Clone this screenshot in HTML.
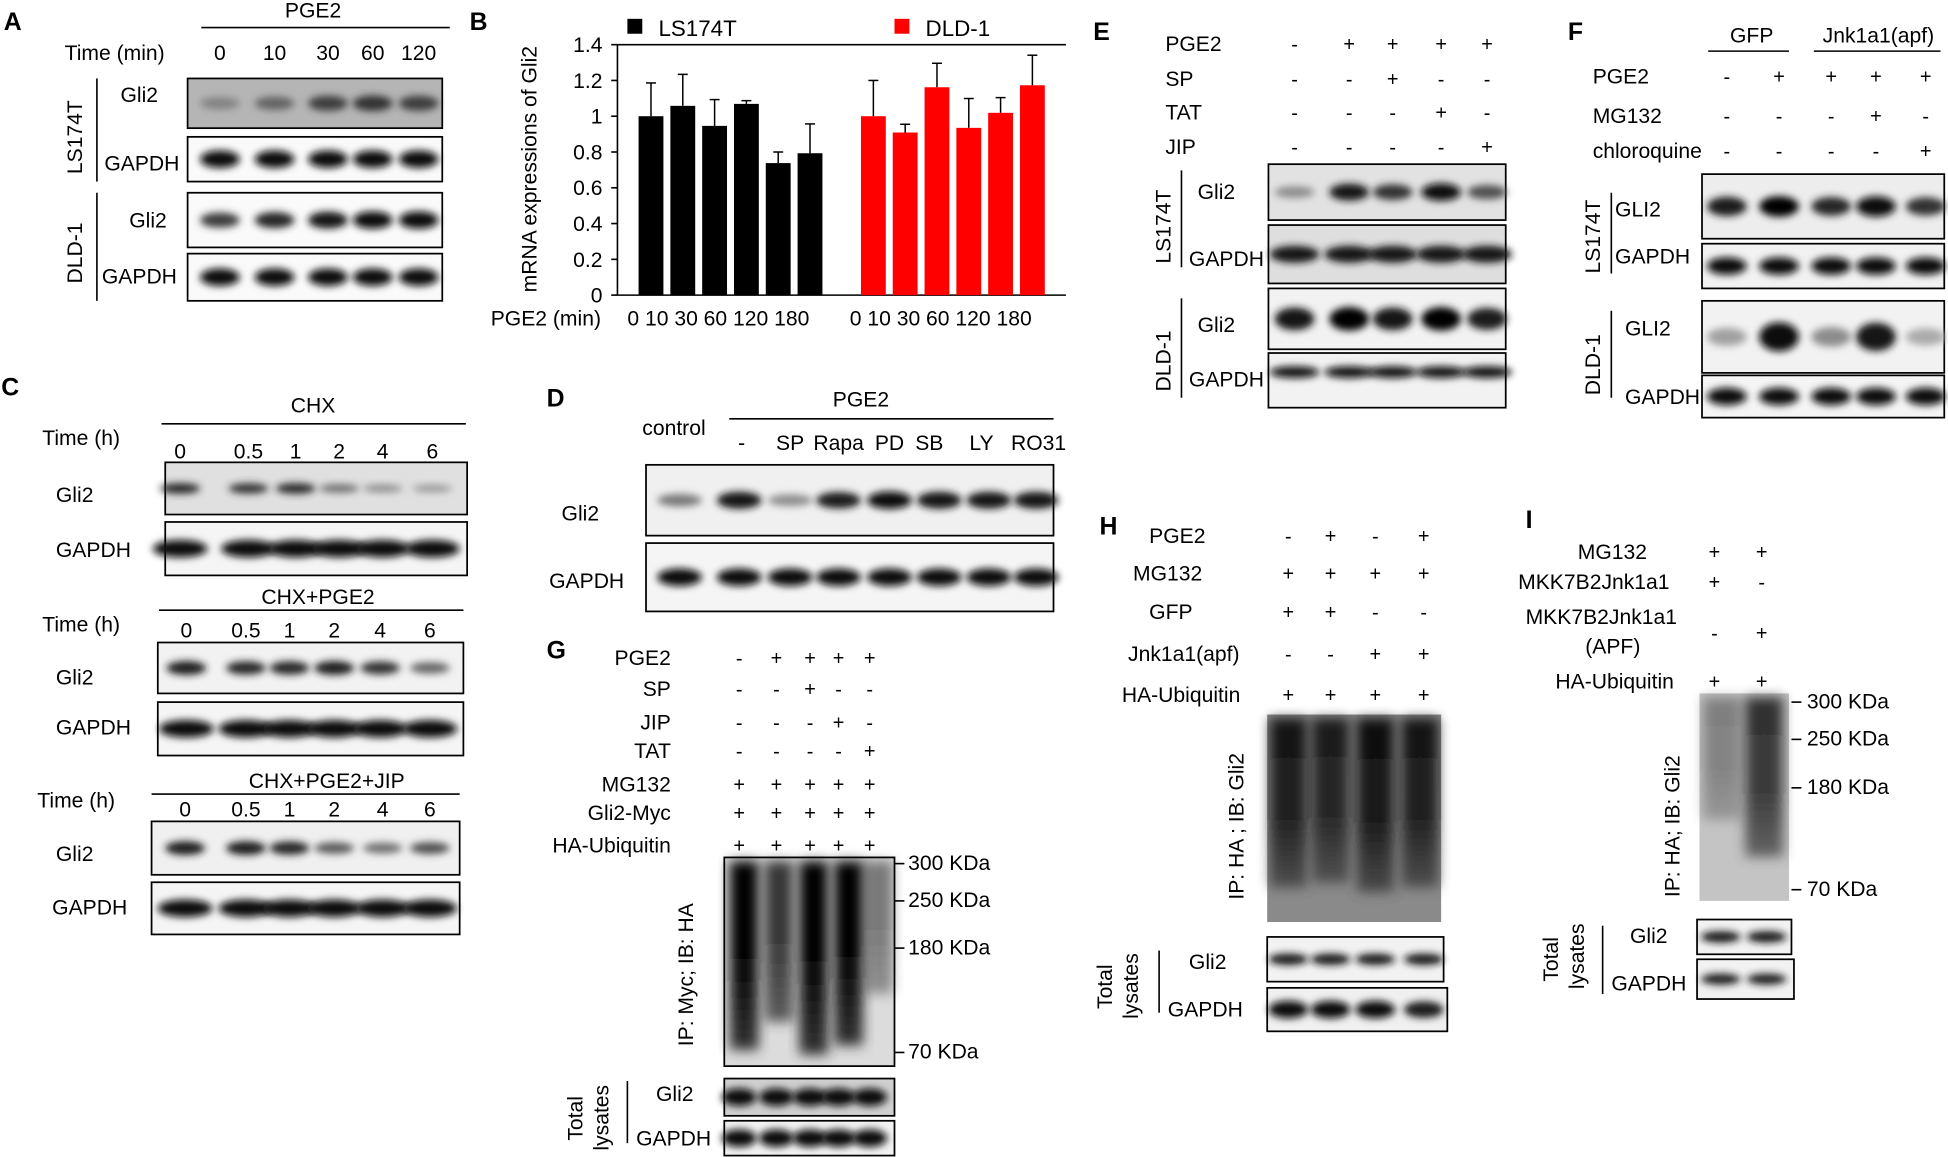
<!DOCTYPE html>
<html><head><meta charset="utf-8">
<style>
html,body{margin:0;padding:0;background:#fff;width:1948px;height:1157px;overflow:hidden}
svg text{font-family:"Liberation Sans",Arial,sans-serif;fill:#000}
</style></head>
<body>
<svg id="fig" xmlns="http://www.w3.org/2000/svg" width="1948" height="1157" viewBox="0 0 1568 931">
<defs>
<filter id="blur" x="-30%" y="-80%" width="160%" height="260%"><feGaussianBlur stdDeviation="3"/></filter>
<filter id="blur2" x="-40%" y="-10%" width="180%" height="120%"><feGaussianBlur stdDeviation="5"/></filter>
<linearGradient id="smearG" x1="0" y1="0" x2="0" y2="1">
<stop offset="0" stop-color="#000"/><stop offset="0.5" stop-color="#050505"/><stop offset="1" stop-color="#333"/>
</linearGradient>
<linearGradient id="smearH" x1="0" y1="0" x2="0" y2="1">
<stop offset="0" stop-color="#000"/><stop offset="0.6" stop-color="#111"/><stop offset="1" stop-color="#444"/>
</linearGradient>
</defs>
<g id="root"></g>
</svg>
<script>
// ---------- Panel B chart data ----------
const categories = ["0","10","30","60","120","180"];
const seriesNames = ["LS174T","DLD-1"];
const ls174tValues = [1.0, 1.058, 0.946, 1.069, 0.738, 0.793];
const ls174tErrors = [0.186, 0.176, 0.147, 0.018, 0.062, 0.164];
const dld1Values = [1.0, 0.909, 1.162, 0.935, 1.019, 1.173];
const dld1Errors = [0.2, 0.046, 0.134, 0.164, 0.085, 0.168];
const yTicks = [0, 0.2, 0.4, 0.6, 0.8, 1, 1.2, 1.4];

const NS = "http://www.w3.org/2000/svg";
const root = document.getElementById('root');
function el(tag, attrs, parent){
  const e = document.createElementNS(NS, tag);
  for (const k in attrs) e.setAttribute(k, attrs[k]);
  (parent||root).appendChild(e);
  return e;
}
function txt(x, y, s, name, opts){
  opts = opts||{};
  const t = el('text', {x:x, y:y, 'font-size':opts.size||17, 'text-anchor':opts.anchor||'start'});
  if (opts.bold) t.setAttribute('font-weight','bold');
  if (opts.rot) t.setAttribute('transform','rotate(-90 '+x+' '+y+')');
  if (opts.fill) t.setAttribute('fill', opts.fill);
  t.textContent = s;
  
  
  return t;
}
function line(x1,y1,x2,y2,name,w){
  const l = el('line',{x1:x1,y1:y1,x2:x2,y2:y2,stroke:'#000','stroke-width':w||1.3});
  
  
  return l;
}
function blot(x, y, w, h, lanes, vals, name, opts){
  opts = opts||{};
  const g = el('g',{});
  
  
  const r = el('rect',{x:x,y:y,width:w,height:h,fill:opts.bg||'#ececec',stroke:'#000','stroke-width':1.4}, g);
  
  
  const bw = opts.bw || 16, bh = opts.bh || 6;
  lanes.forEach((lx,i)=>{
    const v = vals[i];
    if (v<=0) return;
    const c = Math.round(200*(1-v));
    const b = el('ellipse',{cx:lx, cy:y+h*(opts.pos||0.5), rx:bw, ry:bh*(0.6+0.6*v), fill:'rgb('+c+','+c+','+c+')', filter:'url(#blur)'}, g);
    
    
  });
  return g;
}
function smear(x, y, w, h, lanes, vals, name, opts){
  opts = opts||{};
  const g = el('g',{});
  
  
  const r = el('rect',{x:x,y:y,width:w,height:h,fill:opts.bg||'#d8d8d8'}, g);
  
  
  const lw = w/lanes.length;
  lanes.forEach((lx,i)=>{
    const v = vals[i];
    const s = el('rect',{x:lx-lw*0.42, y:y+3, width:lw*0.84, height:h*(0.5+0.45*v), fill:opts.grad||'url(#smearG)', opacity:Math.min(1,0.15+v), filter:'url(#blur2)'}, g);
    
    
  });
  if (opts.frame){
    const f = el('rect',{x:x,y:y,width:w,height:h,fill:'none',stroke:'#000','stroke-width':1.4}, g);
    
    
  }
  return g;
}
function signs(lanes, y, arr, name){
  lanes.forEach((lx,i)=>{ txt(lx, y, arr[i], name, {anchor:'middle', size:16}); });
}

// ================= Panel A =================
txt(3,24,'A','panel-a-label',{bold:true,size:20});
txt(252,14,'PGE2','panel-a-pge2',{anchor:'middle'});
line(162,22,362,22,'panel-a-pge2-line');
txt(52,48,'Time (min)','panel-a-time-label');
const laneA=[177,221,264,300,337];
['0','10','30','60','120'].forEach((s,i)=>txt(laneA[i],48,s,'panel-a-time-tick',{anchor:'middle'}));
blot(151,63,205,40,laneA,[0.35,0.5,0.7,0.75,0.7],'panel-a-ls174t-gli2-blot',{bg:'#b5b5b5'});
blot(151,110,205,36,laneA,[0.95,0.95,0.95,0.95,0.95],'panel-a-ls174t-gapdh-blot',{bg:'#fafafa'});
blot(151,155,205,44,laneA,[0.7,0.8,0.9,0.95,0.95],'panel-a-dld1-gli2-blot',{bg:'#fafafa'});
blot(151,204,205,38,laneA,[0.95,0.95,0.95,0.95,0.95],'panel-a-dld1-gapdh-blot',{bg:'#fafafa'});
txt(97,82,'Gli2','panel-a-gli2-label');
txt(84,137,'GAPDH','panel-a-gapdh-label');
txt(104,183,'Gli2','panel-a-gli2-label-2');
txt(82,228,'GAPDH','panel-a-gapdh-label-2');
txt(66,140,'LS174T','panel-a-ls174t-label',{rot:true});
line(78,63,78,146,'panel-a-ls174t-bracket');
txt(66,228,'DLD-1','panel-a-dld1-label',{rot:true});
line(78,155,78,242,'panel-a-dld1-bracket');

// ================= Panel B (chart) =================
txt(378,24,'B','panel-b-label',{bold:true,size:20});
const yMin=0, yMax=1.4, yTop=35.8, yBot=237.4;
function yScale(v){ return yBot - (v-yMin)/(yMax-yMin)*(yBot-yTop); }
const groupStart=[524,703], barStep=25.6, barW=20;
function xScale(group, i){ return groupStart[group] + i*barStep; }
line(497,yTop,497,yBot,'y-axis');
line(497,yBot,858,yBot,'x-axis');
line(497,yTop,858,yTop,'plot-top-border');
yTicks.forEach(v=>{
  line(492,yScale(v),497,yScale(v),'y-tick');
  txt(485,yScale(v)+6,String(v),'y-tick-label',{anchor:'end',size:17});
});
txt(432,136,'mRNA expressions  of Gli2','y-axis-title',{rot:true,anchor:'middle',size:17});
const seriesVals=[ls174tValues,dld1Values], seriesErr=[ls174tErrors,dld1Errors], colors=['#000','#ff0000'];
seriesVals.forEach((vals,g)=>{
  vals.forEach((v,i)=>{
    const cx=xScale(g,i);
    const top=yScale(v+seriesErr[g][i]);
    line(cx,yScale(v),cx,top,'error-bar',1.2);
    line(cx-4,top,cx+4,top,'error-cap',1.2);
    const b=el('rect',{x:cx-barW/2,y:yScale(v),width:barW,height:yBot-yScale(v),fill:colors[g]});
    
    
  });
  const t=el('text',{x:xScale(g,0)-19,y:262,'font-size':17});
  
  
  t.textContent=categories.join(' ');
});
txt(395,262,'PGE2 (min)','x-axis-title',{size:17});
const lg1=el('rect',{x:505,y:15,width:12,height:12,fill:'#000'});


txt(530,29,'LS174T','legend-label-ls174t',{size:18});
const lg2=el('rect',{x:720,y:15,width:12,height:12,fill:'#ff0000'});


txt(745,29,'DLD-1','legend-label-dld1',{size:18});

// ================= Panel C =================
txt(1,318,'C','panel-c-label',{bold:true,size:20});
txt(252,332,'CHX','panel-c-chx',{anchor:'middle'});
line(130,341,375,341,'panel-c-chx-line');
txt(34,358,'Time (h)','panel-c-time');
const laneC1=[145,200,238,273,308,348];
['0','0.5','1','2','4','6'].forEach((s,i)=>txt(laneC1[i],369,s,'panel-c-time-tick',{anchor:'middle'}));
blot(133,372,243,42,laneC1,[0.8,0.75,0.8,0.45,0.3,0.25],'panel-c-chx-gli2-blot',{bg:'#e0e0e0',bh:4});
blot(133,420,243,43,laneC1,[0.95,0.95,0.95,0.95,0.95,0.95],'panel-c-chx-gapdh-blot',{bg:'#f5f5f5',bw:22});
txt(45,404,'Gli2','panel-c-gli2-label');
txt(45,448,'GAPDH','panel-c-gapdh-label');
txt(256,486,'CHX+PGE2','panel-c-chx-pge2',{anchor:'middle'});
line(128,491,373,491,'panel-c-chx-pge2-line');
txt(34,508,'Time (h)','panel-c-time-2');
const laneC2=[150,198,233,269,306,346];
['0','0.5','1','2','4','6'].forEach((s,i)=>txt(laneC2[i],513,s,'panel-c-time-tick-2',{anchor:'middle'}));
blot(127,517,246,41,laneC2,[0.85,0.8,0.8,0.85,0.75,0.5],'panel-c-chx-pge2-gli2-blot',{bg:'#f2f2f2',bh:5});
blot(127,565,246,43,laneC2,[0.95,0.95,0.95,0.95,0.95,0.95],'panel-c-chx-pge2-gapdh-blot',{bg:'#f5f5f5',bw:22});
txt(45,551,'Gli2','panel-c-gli2-label-2');
txt(45,591,'GAPDH','panel-c-gapdh-label-2');
txt(263,634,'CHX+PGE2+JIP','panel-c-chx-pge2-jip',{anchor:'middle'});
line(122,639,370,639,'panel-c-jip-line');
txt(30,650,'Time (h)','panel-c-time-3');
const laneC3=[149,198,233,269,308,346];
['0','0.5','1','2','4','6'].forEach((s,i)=>txt(laneC3[i],657,s,'panel-c-time-tick-3',{anchor:'middle'}));
blot(122,661,248,43,laneC3,[0.85,0.85,0.8,0.55,0.45,0.6],'panel-c-jip-gli2-blot',{bg:'#f0f0f0',bh:5});
blot(122,710,248,42,laneC3,[0.95,0.95,0.95,0.95,0.95,0.95],'panel-c-jip-gapdh-blot',{bg:'#f5f5f5',bw:22});
txt(45,693,'Gli2','panel-c-gli2-label-3');
txt(42,736,'GAPDH','panel-c-gapdh-label-3');

// ================= Panel D =================
txt(440,327,'D','panel-d-label',{bold:true,size:20});
txt(693,327,'PGE2','panel-d-pge2',{anchor:'middle'});
line(587,337,848,337,'panel-d-pge2-line');
txt(517,350,'control','panel-d-control');
const labD=['-','SP','Rapa','PD','SB','LY','RO31'];
[597,636,675,716,748,790,836].forEach((x,i)=>txt(x,362,labD[i],'panel-d-treatment',{anchor:'middle'}));
blot(520,374,328,57,[547,595,636,675,716,756,796,834],[0.4,0.9,0.3,0.85,0.95,0.9,0.9,0.9],'panel-d-gli2-blot',{bg:'#f0f0f0',bw:18});
blot(520,437,328,55,[547,595,636,675,716,756,796,834],[0.95,0.95,0.95,0.95,0.95,0.95,0.95,0.95],'panel-d-gapdh-blot',{bg:'#f5f5f5',bw:18});
txt(452,419,'Gli2','panel-d-gli2-label');
txt(442,473,'GAPDH','panel-d-gapdh-label');

// ================= Panel E =================
txt(880,32,'E','panel-e-label',{bold:true,size:20});
const laneE=[1042,1086,1121,1160,1197];
txt(938,41,'PGE2','panel-e-pge2'); signs(laneE,41,['-','+','+','+','+'],'panel-e-pge2-sign');
txt(938,69,'SP','panel-e-sp'); signs(laneE,69,['-','-','+','-','-'],'panel-e-sp-sign');
txt(938,96,'TAT','panel-e-tat'); signs(laneE,96,['-','-','-','+','-'],'panel-e-tat-sign');
txt(938,124,'JIP','panel-e-jip'); signs(laneE,124,['-','-','-','-','+'],'panel-e-jip-sign');
blot(1021,132,191,45,laneE,[0.3,0.9,0.75,0.95,0.6],'panel-e-ls174t-gli2-blot',{bg:'#e2e2e2'});
blot(1021,181,191,47,laneE,[0.9,0.9,0.9,0.9,0.9],'panel-e-ls174t-gapdh-blot',{bg:'#dedede',bw:20});
blot(1021,232,191,49,laneE,[0.9,0.98,0.9,0.98,0.85],'panel-e-dld1-gli2-blot',{bg:'#f2f2f2',bh:8});
blot(1021,284,191,44,laneE,[0.95,0.95,0.95,0.95,0.95],'panel-e-dld1-gapdh-blot',{bg:'#f2f2f2',pos:0.35,bw:20,bh:4});
txt(964,160,'Gli2','panel-e-gli2-label');
txt(957,214,'GAPDH','panel-e-gapdh-label');
txt(964,267,'Gli2','panel-e-gli2-label-2');
txt(957,311,'GAPDH','panel-e-gapdh-label-2');
txt(942,212,'LS174T','panel-e-ls174t-label',{rot:true});
line(951,137,951,215,'panel-e-ls174t-bracket');
txt(942,315,'DLD-1','panel-e-dld1-label',{rot:true});
line(951,240,951,320,'panel-e-dld1-bracket');

// ================= Panel F =================
txt(1262,32,'F','panel-f-label',{bold:true,size:20});
txt(1410,34,'GFP','panel-f-gfp',{anchor:'middle'});
line(1375,41,1440,41,'panel-f-gfp-line');
txt(1512,34,'Jnk1a1(apf)','panel-f-jnk',{anchor:'middle'});
line(1460,41,1562,41,'panel-f-jnk-line');
const laneF=[1390,1432,1474,1510,1550];
txt(1282,67,'PGE2','panel-f-pge2'); signs(laneF,67,['-','+','+','+','+'],'panel-f-pge2-sign');
txt(1282,99,'MG132','panel-f-mg132'); signs(laneF,99,['-','-','-','+','-'],'panel-f-mg132-sign');
txt(1282,127,'chloroquine','panel-f-chloroquine'); signs(laneF,127,['-','-','-','-','+'],'panel-f-chloroquine-sign');
blot(1370,140,195,52,laneF,[0.85,0.98,0.8,0.95,0.75],'panel-f-ls174t-gli2-blot',{bg:'#ededed',bh:7});
blot(1370,196,195,36,laneF,[0.95,0.95,0.95,0.95,0.95],'panel-f-ls174t-gapdh-blot',{bg:'#f2f2f2'});
blot(1370,242,195,58,laneF,[0.2,0.95,0.3,0.9,0.15],'panel-f-dld1-gli2-blot',{bg:'#f2f2f2',bh:10});
blot(1370,302,195,34,laneF,[0.95,0.95,0.95,0.95,0.95],'panel-f-dld1-gapdh-blot',{bg:'#f5f5f5'});
txt(1300,174,'GLI2','panel-f-gli2-label');
txt(1300,212,'GAPDH','panel-f-gapdh-label');
txt(1308,270,'GLI2','panel-f-gli2-label-2');
txt(1308,325,'GAPDH','panel-f-gapdh-label-2');
txt(1288,220,'LS174T','panel-f-ls174t-label',{rot:true});
line(1297,155,1297,220,'panel-f-ls174t-bracket');
txt(1288,318,'DLD-1','panel-f-dld1-label',{rot:true});
line(1297,250,1297,320,'panel-f-dld1-bracket');

// ================= Panel G =================
txt(440,530,'G','panel-g-label',{bold:true,size:20});
const laneG=[595,625,652,675,700];
const rowsG=[['PGE2',535,['-','+','+','+','+']],['SP',560,['-','-','+','-','-']],['JIP',587,['-','-','-','+','-']],['TAT',610,['-','-','-','-','+']],['MG132',637,['+','+','+','+','+']],['Gli2-Myc',660,['+','+','+','+','+']],['HA-Ubiquitin',686,['+','+','+','+','+']]];
rowsG.forEach(r=>{ txt(540,r[1],r[0],'panel-g-row-label',{anchor:'end'}); signs(laneG,r[1],r[2],'panel-g-sign'); });
smear(583,690,137,168,[599,627,655,683,707],[0.9,0.6,0.95,0.85,0.3],'panel-g-ubiquitin-smear',{bg:'#dcdcdc',frame:true});
[[700,'300 KDa'],[730,'250 KDa'],[768,'180 KDa'],[852,'70 KDa']].forEach(m=>{ line(720,m[0]-5,728,m[0]-5,'panel-g-marker-tick'); txt(731,m[0],m[1],'panel-g-marker-label'); });
txt(558,842,'IP: Myc; IB: HA','panel-g-ip-label',{rot:true});
blot(583,868,137,30,laneG,[0.95,0.95,0.95,0.95,0.95],'panel-g-gli2-blot',{bg:'#cfcfcf',bw:14});
blot(583,902,137,28,laneG,[0.95,0.95,0.95,0.95,0.95],'panel-g-gapdh-blot',{bg:'#f2f2f2',bw:14});
txt(528,886,'Gli2','panel-g-gli2-label');
txt(512,922,'GAPDH','panel-g-gapdh-label');
txt(469,918,'Total','panel-g-total-label',{rot:true});
txt(490,926,'lysates','panel-g-lysates-label',{rot:true});
line(505,870,505,920,'panel-g-bracket');

// ================= Panel H =================
txt(885,430,'H','panel-h-label',{bold:true,size:20});
const laneH=[1037,1071,1107,1146];
const rowsH=[['PGE2',437,925,['-','+','-','+']],['MG132',467,912,['+','+','+','+']],['GFP',498,925,['+','+','-','-']],['Jnk1a1(apf)',532,908,['-','-','+','+']],['HA-Ubiquitin',565,903,['+','+','+','+']]];
rowsH.forEach(r=>{ txt(r[2],r[1],r[0],'panel-h-row-label'); signs(laneH,r[1],r[3],'panel-h-sign'); });
smear(1020,575,140,167,[1037,1071,1107,1143],[0.7,0.65,0.75,0.7],'panel-h-ubiquitin-smear',{bg:'#8a8a8a',grad:'url(#smearH)'});
txt(1001,724,'IP: HA ; IB: Gli2','panel-h-ip-label',{rot:true});
blot(1020,754,142,36,laneH,[0.9,0.9,0.9,0.9],'panel-h-gli2-blot',{bg:'#f2f2f2',bh:4});
blot(1020,795,145,35,laneH,[0.95,0.95,0.95,0.85],'panel-h-gapdh-blot',{bg:'#f0f0f0'});
txt(957,780,'Gli2','panel-h-gli2-label');
txt(940,818,'GAPDH','panel-h-gapdh-label');
txt(895,812,'Total','panel-h-total-label',{rot:true});
txt(916,820,'lysates','panel-h-lysates-label',{rot:true});
line(933,765,933,815,'panel-h-bracket');

// ================= Panel I =================
txt(1228,425,'I','panel-i-label',{bold:true,size:20});
const laneI=[1380,1418];
txt(1270,450,'MG132','panel-i-mg132'); signs(laneI,450,['+','+'],'panel-i-mg132-sign');
txt(1222,474,'MKK7B2Jnk1a1','panel-i-mkk7'); signs(laneI,474,['+','-'],'panel-i-mkk7-sign');
txt(1228,502,'MKK7B2Jnk1a1','panel-i-mkk7-apf'); txt(1276,526,'(APF)','panel-i-apf'); signs(laneI,515,['-','+'],'panel-i-apf-sign');
txt(1252,554,'HA-Ubiquitin','panel-i-ha-ub'); signs(laneI,554,['+','+'],'panel-i-ha-sign');
smear(1368,558,72,167,[1386,1420],[0.2,0.6],'panel-i-ubiquitin-smear',{bg:'#c4c4c4',grad:'url(#smearH)'});
[[570,'300 KDa'],[600,'250 KDa'],[639,'180 KDa'],[721,'70 KDa']].forEach(m=>{ line(1442,m[0]-5,1450,m[0]-5,'panel-i-marker-tick'); txt(1451,m[0],'\u2009'+m[1],'panel-i-marker-label'); });
txt(1352,722,'IP: HA; IB: Gli2','panel-i-ip-label',{rot:true});
blot(1366,740,76,28,[1385,1422],[0.9,0.9],'panel-i-gli2-blot',{bg:'#f2f2f2',bh:4});
blot(1366,772,78,32,[1385,1422],[0.85,0.85],'panel-i-gapdh-blot',{bg:'#f2f2f2',bh:4});
txt(1312,759,'Gli2','panel-i-gli2-label');
txt(1297,797,'GAPDH','panel-i-gapdh-label');
txt(1254,790,'Total','panel-i-total-label',{rot:true});
txt(1275,796,'lysates','panel-i-lysates-label',{rot:true});
line(1290,745,1290,800,'panel-i-bracket');
</script>
</body></html>
